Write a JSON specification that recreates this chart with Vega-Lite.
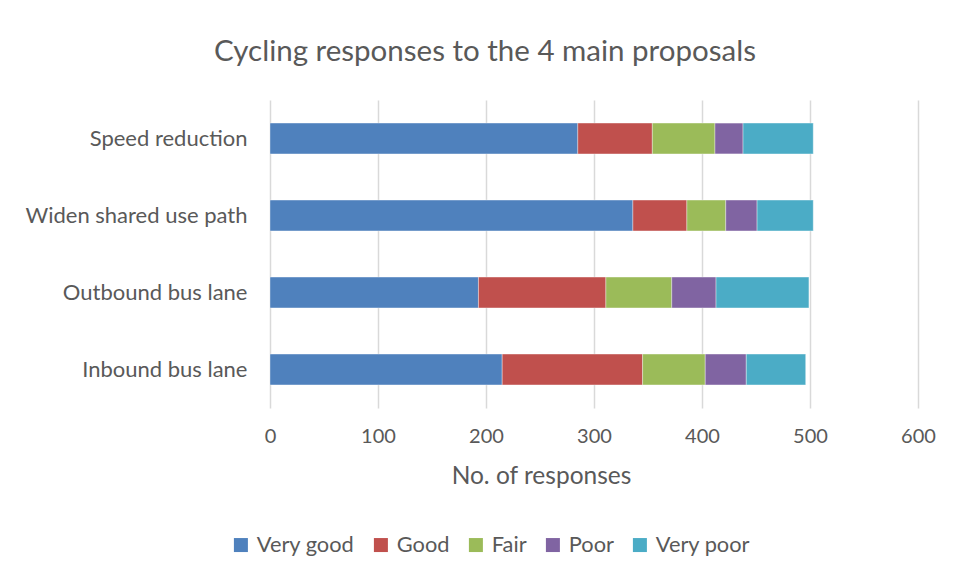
{
  "$schema": "https://vega.github.io/schema/vega-lite/v6.json",
  "autosize": {"type": "none"},
  "width": 648,
  "height": 308,
  "padding": {"left": 270, "top": 100, "right": 35, "bottom": 165},
  "background": "white",
  "config": {
    "font": "Lato",
    "view": {"stroke": null},
    "axis": {"labelColor": "#595959", "titleColor": "#595959", "labelFont": "Lato", "titleFont": "Lato"}
  },
  "title": {
    "text": "Cycling responses to the 4 main proposals",
    "fontSize": 29.5,
    "fontWeight": "normal",
    "color": "#595959",
    "font": "Lato",
    "anchor": "middle",
    "dx": -109,
    "offset": 33
  },
  "data": {
    "values": [
      {"proposal": "Speed reduction ", "rating": "Very good", "rank": 1, "count": 285},
      {"proposal": "Speed reduction ", "rating": "Good", "rank": 2, "count": 69},
      {"proposal": "Speed reduction ", "rating": "Fair", "rank": 3, "count": 58},
      {"proposal": "Speed reduction ", "rating": "Poor", "rank": 4, "count": 26},
      {"proposal": "Speed reduction ", "rating": "Very poor", "rank": 5, "count": 65},
      {"proposal": "Widen shared use path", "rating": "Very good", "rank": 1, "count": 336},
      {"proposal": "Widen shared use path", "rating": "Good", "rank": 2, "count": 50},
      {"proposal": "Widen shared use path", "rating": "Fair", "rank": 3, "count": 36},
      {"proposal": "Widen shared use path", "rating": "Poor", "rank": 4, "count": 29},
      {"proposal": "Widen shared use path", "rating": "Very poor", "rank": 5, "count": 52},
      {"proposal": "Outbound bus lane", "rating": "Very good", "rank": 1, "count": 193},
      {"proposal": "Outbound bus lane", "rating": "Good", "rank": 2, "count": 118},
      {"proposal": "Outbound bus lane", "rating": "Fair", "rank": 3, "count": 61},
      {"proposal": "Outbound bus lane", "rating": "Poor", "rank": 4, "count": 41},
      {"proposal": "Outbound bus lane", "rating": "Very poor", "rank": 5, "count": 86},
      {"proposal": "Inbound bus lane", "rating": "Very good", "rank": 1, "count": 215},
      {"proposal": "Inbound bus lane", "rating": "Good", "rank": 2, "count": 130},
      {"proposal": "Inbound bus lane", "rating": "Fair", "rank": 3, "count": 58},
      {"proposal": "Inbound bus lane", "rating": "Poor", "rank": 4, "count": 38},
      {"proposal": "Inbound bus lane", "rating": "Very poor", "rank": 5, "count": 55}
    ]
  },
  "mark": {"type": "bar", "stroke": "white", "strokeWidth": 0.6, "strokeOpacity": 0.6},
  "encoding": {
    "y": {
      "field": "proposal",
      "type": "nominal",
      "sort": ["Speed reduction ", "Widen shared use path", "Outbound bus lane", "Inbound bus lane"],
      "scale": {"paddingInner": 0.6, "paddingOuter": 0.3},
      "axis": {"title": null, "domain": false, "ticks": false, "labelFontSize": 22, "labelPadding": 23, "labelLimit": 400, "grid": false}
    },
    "x": {
      "field": "count",
      "type": "quantitative",
      "stack": "zero",
      "scale": {"domain": [0, 600], "nice": false},
      "axis": {
        "title": "No. of responses",
        "titleFontSize": 24.5,
        "titleFontWeight": "normal",
        "titlePadding": 18,
        "titleX": 271,
        "titleAlign": "center",
        "values": [0, 100, 200, 300, 400, 500, 600],
        "labelFontSize": 20,
        "labelPadding": 18,
        "labelFlush": false,
        "domain": false,
        "ticks": false,
        "grid": true,
        "gridColor": "#d9d9d9",
        "gridWidth": 1.5
      }
    },
    "order": {"field": "rank", "type": "quantitative"},
    "color": {
      "field": "rating",
      "type": "nominal",
      "sort": ["Very good", "Good", "Fair", "Poor", "Very poor"],
      "scale": {
        "domain": ["Very good", "Good", "Fair", "Poor", "Very poor"],
        "range": ["#4F81BD", "#C0504D", "#9BBB59", "#8064A2", "#4BACC6"]
      },
      "legend": {
        "title": null,
        "orient": "none",
        "direction": "horizontal",
        "legendX": -40,
        "legendY": 434,
        "symbolType": "square",
        "symbolSize": 196,
        "symbolStrokeWidth": 0,
        "labelFontSize": 21.8,
        "labelColor": "#595959",
        "labelFont": "Lato",
        "labelLimit": 300,
        "columnPadding": 15,
        "symbolOffset": 0,
        "labelOffset": 5
      }
    }
  }
}
